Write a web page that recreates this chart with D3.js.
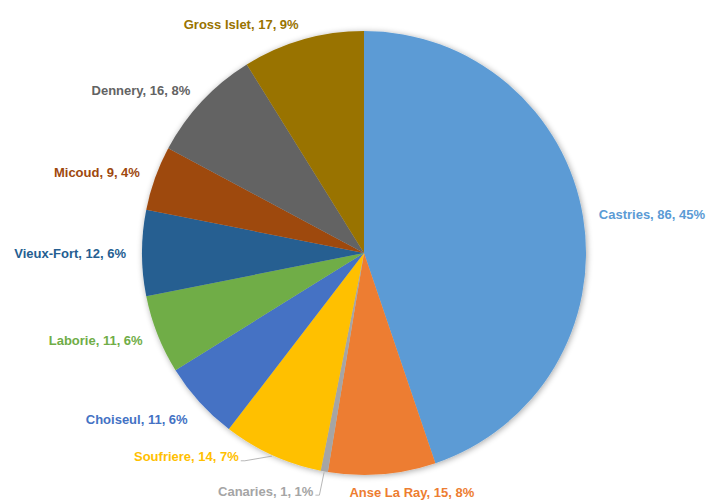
<!DOCTYPE html>
<html>
<head>
<meta charset="utf-8">
<script src="https://cdn.jsdelivr.net/npm/d3@7"></script>
<style>
  body { margin: 0; background: #fff; }
  #chart text { font-family: "Liberation Sans", Arial, sans-serif; font-weight: bold; font-size: 13px; }
</style>
</head>
<body>
<div id="chart"></div>
<script>
// districts, clockwise from 12 o'clock
var districts = ['Castries', 'Anse La Ray', 'Canaries', 'Soufriere', 'Choiseul',
                 'Laborie', 'Vieux-Fort', 'Micoud', 'Dennery', 'Gross Islet'];
var counts = [86, 15, 1, 14, 11, 11, 12, 9, 16, 17];
var percentLabels = ['45%', '8%', '1%', '7%', '6%', '6%', '6%', '4%', '8%', '9%'];
var sliceColors = ['#5B9BD5', '#ED7D31', '#A5A5A5', '#FFC000', '#4472C4',
                   '#70AD47', '#255E91', '#9E480E', '#636363', '#997300'];

var width = 706, height = 502;
var cx = 364, cy = 253, radius = 222;
var labelGap = 16;

// Excel moved a few of the crowded bottom labels; nudge them the same way
var labelNudge = {
  'Anse La Ray': {dx: -34, dy: 2, anchor: 'start', leader: false},
  'Canaries': {dx: -8, dy: 4, anchor: 'end', leader: true},
  'Soufriere': {dx: -27, dy: -13, anchor: 'end', leader: true},
  'Choiseul': {dx: 0, dy: 7, anchor: 'end', leader: false}
};

var svg = d3.select('#chart').append('svg')
  .attr('width', width)
  .attr('height', height);

var defs = svg.append('defs');
var shadow = defs.append('filter').attr('id', 'soft')
  .attr('x', '-10%').attr('y', '-10%').attr('width', '120%').attr('height', '120%');
shadow.append('feGaussianBlur').attr('in', 'SourceAlpha').attr('stdDeviation', 3).attr('result', 'b');
shadow.append('feOffset').attr('dx', 1).attr('dy', 1).attr('result', 'o');
shadow.append('feComponentTransfer').append('feFuncA').attr('type', 'linear').attr('slope', 0.35);
var merge = shadow.append('feMerge');
merge.append('feMergeNode');
merge.append('feMergeNode').attr('in', 'SourceGraphic');

var data = districts.map(function (d, i) {
  return {name: d, value: counts[i], pct: percentLabels[i], color: sliceColors[i]};
});

var pie = d3.pie().sort(null).value(function (d) { return d.value; });
var arcs = pie(data);

var arc = d3.arc().innerRadius(0).outerRadius(radius);

var g = svg.append('g').attr('transform', 'translate(' + cx + ',' + cy + ')');

g.append('g').attr('filter', 'url(#soft)')
  .selectAll('path')
  .data(arcs)
  .enter().append('path')
  .attr('d', arc)
  .attr('fill', function (d) { return d.data.color; });

function polar (angle, r) {
  return [r * Math.sin(angle), -r * Math.cos(angle)];
}

var labels = g.append('g');
arcs.forEach(function (d) {
  var mid = (d.startAngle + d.endAngle) / 2;
  var p = polar(mid, radius + labelGap);
  var anchor = Math.sin(mid) >= 0 ? 'start' : 'end';
  var nudge = labelNudge[d.data.name];
  var x = p[0], y = p[1];
  if (nudge) {
    x += nudge.dx;
    y += nudge.dy;
    anchor = nudge.anchor;
  }
  labels.append('text')
    .attr('x', x)
    .attr('y', y)
    .attr('dominant-baseline', 'central')
    .attr('text-anchor', anchor)
    .attr('fill', d.data.color)
    .text(d.data.name + ', ' + d.data.value + ', ' + d.data.pct);
  if (nudge && nudge.leader) {
    var e = polar(mid, radius + 1);
    labels.append('polyline')
      .attr('points', [[x + 2, y + 4], [x + 6, y + 4], e].map(function (q) { return q.join(','); }).join(' '))
      .attr('fill', 'none')
      .attr('stroke', '#A5A5A5')
      .attr('stroke-width', 0.8);
  }
});
</script>
</body>
</html>
